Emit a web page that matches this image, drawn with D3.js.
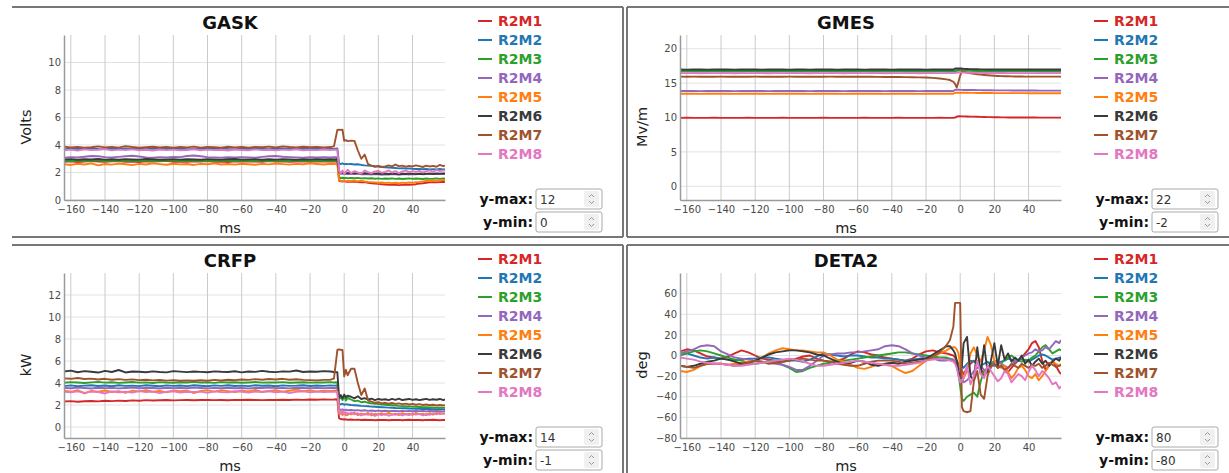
<!DOCTYPE html>
<html>
<head>
<meta charset="utf-8">
<script src="https://cdn.jsdelivr.net/npm/d3@7"></script>
<style>
  body { margin: 0; background: #fff; }
  svg text { font-family: "DejaVu Sans", Verdana, sans-serif; }
  .tick text { fill: #4a4a4a; font-size: 10px; }
  .domain { stroke: #9a9a9a; stroke-width: 1.5; }
</style>
</head>
<body>
<svg id="chart" width="1229" height="473"></svg>
<script>
// time axis shared by all four plots (ms)
var timeMs = [
  -164,-160,-156,-152,-148,-144,-140,-136,-132,-128,
  -124,-120,-116,-112,-108,-104,-100,-96,-92,-88,
  -84,-80,-76,-72,-68,-64,-60,-56,-52,-48,
  -44,-40,-36,-32,-28,-24,-20,-16,-12,-8,
  -6,-4,-3,-2,-1,0,1,2,
  4,6,8,10,12,14,16,18,20,22,
  24,26,28,30,32,34,36,38,40,42,
  44,46,48,50,52,54,56,58,59
];

var seriesNames = ["R2M1","R2M2","R2M3","R2M4","R2M5","R2M6","R2M7","R2M8"];
var seriesColors = ["#d62728","#1f77b4","#2ca02c","#9467bd","#ff7f0e","#3a3a3a","#a0522d","#e377c2"];
var xTicks = [-160,-140,-120,-100,-80,-60,-40,-20,0,20,40];

var gaskTicks = [0,2,4,6,8,10];
var gmesTicks = [0,5,10,15,20];
var crfpTicks = [0,2,4,6,8,10,12];
var deta2Ticks = [-80,-60,-40,-20,0,20,40,60];

var gask = [
  [2.78,2.82,2.76,2.80,2.84,2.79,2.77,2.81,2.83,2.78,
   2.80,2.76,2.82,2.79,2.81,2.85,2.78,2.80,2.77,2.82,
   2.79,2.83,2.78,2.80,2.76,2.81,2.79,2.82,2.80,2.78,
   2.83,2.79,2.81,2.77,2.80,2.82,2.78,2.81,2.79,2.80,
   2.80,2.81,1.40,1.36,1.34,1.37,1.33,1.35,
   1.32,1.34,1.30,1.28,1.30,1.25,1.22,1.20,1.18,1.15,
   1.12,1.10,1.12,1.10,1.08,1.10,1.12,1.10,1.12,1.15,
   1.20,1.22,1.25,1.28,1.30,1.28,1.30,1.32,1.30],
  [3.70,3.74,3.71,3.73,3.76,3.72,3.70,3.74,3.72,3.75,
   3.71,3.73,3.70,3.74,3.72,3.71,3.75,3.73,3.70,3.72,
   3.74,3.71,3.73,3.76,3.72,3.70,3.73,3.71,3.74,3.72,
   3.70,3.73,3.75,3.72,3.71,3.74,3.72,3.73,3.70,3.74,
   3.72,3.75,2.65,2.62,2.66,2.60,2.63,2.61,
   2.62,2.58,2.60,2.55,2.52,2.50,2.48,2.45,2.44,2.40,
   2.38,2.36,2.35,2.33,2.30,2.32,2.28,2.30,2.27,2.25,
   2.26,2.24,2.25,2.22,2.24,2.23,2.25,2.22,2.24],
  [2.86,2.84,2.87,2.83,2.85,2.88,2.84,2.86,2.83,2.85,
   2.87,2.84,2.86,2.85,2.83,2.86,2.88,2.84,2.85,2.87,
   2.83,2.86,2.84,2.85,2.87,2.84,2.86,2.83,2.85,2.86,
   2.84,2.87,2.85,2.83,2.86,2.84,2.85,2.87,2.84,2.86,
   2.85,2.86,1.65,1.60,1.62,1.58,1.61,1.59,
   1.60,1.58,1.61,1.57,1.59,1.56,1.58,1.55,1.57,1.54,
   1.56,1.55,1.57,1.54,1.56,1.53,1.55,1.57,1.54,1.56,
   1.55,1.53,1.56,1.54,1.55,1.57,1.54,1.56,1.55],
  [3.08,3.12,3.10,3.15,3.20,3.18,3.12,3.10,3.14,3.18,
   3.22,3.16,3.10,3.08,3.12,3.10,3.14,3.12,3.20,3.24,
   3.18,3.12,3.10,3.08,3.11,3.09,3.12,3.10,3.08,3.14,
   3.18,3.20,3.15,3.12,3.10,3.08,3.11,3.09,3.12,3.10,
   3.11,3.12,1.95,1.90,1.92,1.88,1.91,1.89,
   1.90,1.88,1.92,1.86,1.89,1.87,1.85,1.88,1.86,1.84,
   1.87,1.85,1.88,1.86,1.84,1.87,1.89,1.85,1.88,1.86,
   1.90,1.87,1.89,1.92,1.90,1.93,1.91,1.94,1.92],
  [2.60,2.55,2.64,2.58,2.66,2.52,2.62,2.57,2.65,2.60,
   2.54,2.63,2.58,2.66,2.61,2.56,2.64,2.59,2.62,2.55,
   2.63,2.60,2.66,2.58,2.62,2.57,2.64,2.60,2.56,2.63,
   2.59,2.65,2.61,2.57,2.63,2.60,2.66,2.62,2.58,2.64,
   2.62,2.65,1.45,1.40,1.38,1.42,1.37,1.40,
   1.38,1.42,1.36,1.40,1.35,1.32,1.30,1.28,1.25,1.27,
   1.24,1.26,1.23,1.25,1.22,1.26,1.24,1.27,1.25,1.30,
   1.32,1.35,1.38,1.40,1.42,1.40,1.44,1.46,1.45],
  [2.94,2.97,2.93,2.96,2.95,2.98,2.94,2.96,2.93,2.97,
   2.95,2.94,2.98,2.96,2.93,2.95,2.97,2.94,2.96,2.95,
   2.93,2.97,2.95,2.94,2.96,2.98,2.94,2.95,2.97,2.93,
   2.96,2.94,2.97,2.95,2.93,2.96,2.94,2.97,2.95,2.96,
   2.95,2.96,2.05,1.98,2.00,1.96,1.99,1.95,
   1.97,1.94,1.96,1.93,1.95,1.92,1.94,1.91,1.93,1.90,
   1.92,1.89,1.91,1.90,1.88,1.91,1.89,1.92,1.90,1.88,
   1.91,1.89,1.90,1.92,1.89,1.91,1.90,1.92,1.91],
  [3.88,3.82,3.86,3.80,3.84,3.90,3.83,3.86,3.81,3.92,
   3.85,3.80,3.84,3.87,3.82,3.86,3.80,3.85,3.83,3.88,
   3.81,3.86,3.84,3.80,3.87,3.83,3.85,3.81,3.86,3.84,
   3.88,3.82,3.90,3.85,3.83,3.87,3.84,3.86,3.82,3.85,
   3.90,5.10,5.12,5.10,5.11,4.30,4.35,4.28,
   4.32,4.30,3.60,3.00,3.30,2.60,2.50,2.42,2.48,2.40,
   2.45,2.52,2.44,2.58,2.46,2.50,2.42,2.48,2.44,2.52,
   2.46,2.40,2.50,2.44,2.48,2.42,2.55,2.46,2.50],
  [3.62,3.66,3.60,3.68,3.63,3.65,3.70,3.61,3.66,3.64,
   3.68,3.62,3.65,3.60,3.67,3.63,3.66,3.61,3.64,3.69,
   3.62,3.66,3.63,3.65,3.60,3.67,3.64,3.62,3.68,3.63,
   3.65,3.61,3.66,3.64,3.69,3.62,3.65,3.63,3.67,3.64,
   3.65,3.66,2.10,1.95,2.15,1.90,2.05,2.20,
   1.95,2.10,2.00,1.92,2.15,2.02,1.95,2.08,2.12,1.98,
   2.05,2.15,2.00,2.10,1.96,2.08,2.14,2.02,2.10,2.05,
   2.12,2.00,2.08,2.15,2.05,2.18,2.10,2.16,2.12]
];

var gmes = [
  [9.95,9.96,9.95,9.94,9.95,9.96,9.95,9.95,9.94,9.95,
   9.96,9.95,9.95,9.94,9.95,9.96,9.95,9.95,9.95,9.94,
   9.95,9.96,9.95,9.95,9.94,9.95,9.95,9.96,9.95,9.95,
   9.94,9.95,9.96,9.95,9.95,9.94,9.95,9.95,9.96,9.95,
   9.95,9.96,9.98,10.12,10.18,10.18,10.17,10.16,
   10.15,10.13,10.12,10.10,10.09,10.08,10.06,10.05,10.04,10.03,
   10.02,10.02,10.01,10.01,10.00,10.00,10.00,9.99,9.99,9.99,
   9.99,9.98,9.98,9.98,9.98,9.98,9.98,9.98,9.98],
  [16.80,16.81,16.80,16.79,16.80,16.81,16.80,16.80,16.79,16.80,
   16.81,16.80,16.80,16.79,16.80,16.81,16.80,16.80,16.80,16.79,
   16.80,16.81,16.80,16.80,16.79,16.80,16.80,16.81,16.80,16.80,
   16.79,16.80,16.81,16.80,16.80,16.79,16.80,16.80,16.81,16.80,
   16.80,16.80,16.82,16.88,16.90,16.89,16.88,16.87,
   16.86,16.85,16.84,16.84,16.83,16.83,16.82,16.82,16.82,16.81,
   16.81,16.81,16.81,16.80,16.80,16.80,16.80,16.80,16.80,16.80,
   16.80,16.80,16.80,16.80,16.80,16.80,16.80,16.80,16.80],
  [16.70,16.71,16.70,16.69,16.70,16.71,16.70,16.70,16.69,16.70,
   16.71,16.70,16.70,16.69,16.70,16.71,16.70,16.70,16.70,16.69,
   16.70,16.71,16.70,16.70,16.69,16.70,16.70,16.71,16.70,16.70,
   16.69,16.70,16.71,16.70,16.70,16.69,16.70,16.70,16.71,16.70,
   16.70,16.70,16.72,16.80,16.84,16.83,16.82,16.80,
   16.79,16.78,16.77,16.76,16.76,16.75,16.75,16.74,16.74,16.73,
   16.73,16.73,16.72,16.72,16.72,16.72,16.71,16.71,16.71,16.71,
   16.71,16.70,16.70,16.70,16.70,16.70,16.70,16.70,16.70],
  [13.85,13.86,13.85,13.84,13.85,13.86,13.85,13.85,13.84,13.85,
   13.86,13.85,13.85,13.84,13.85,13.86,13.85,13.85,13.85,13.84,
   13.85,13.86,13.85,13.85,13.84,13.85,13.85,13.86,13.85,13.85,
   13.84,13.85,13.86,13.85,13.85,13.84,13.85,13.85,13.86,13.85,
   13.85,13.86,14.02,14.04,14.03,14.02,14.02,14.01,
   14.00,14.00,13.99,13.98,13.98,13.97,13.96,13.96,13.95,13.95,
   13.94,13.94,13.94,13.93,13.93,13.93,13.92,13.92,13.92,13.92,
   13.92,13.91,13.91,13.91,13.91,13.91,13.91,13.91,13.91],
  [13.45,13.46,13.45,13.44,13.45,13.46,13.45,13.45,13.44,13.45,
   13.46,13.45,13.45,13.44,13.45,13.46,13.45,13.45,13.45,13.44,
   13.45,13.46,13.45,13.45,13.44,13.45,13.45,13.46,13.45,13.45,
   13.44,13.45,13.46,13.45,13.45,13.44,13.45,13.45,13.46,13.45,
   13.45,13.46,13.60,13.62,13.61,13.60,13.60,13.59,
   13.59,13.58,13.58,13.57,13.57,13.56,13.56,13.56,13.55,13.55,
   13.55,13.55,13.54,13.54,13.54,13.54,13.54,13.54,13.53,13.53,
   13.53,13.53,13.53,13.53,13.53,13.53,13.53,13.53,13.53],
  [16.98,16.97,16.99,16.98,16.97,16.98,16.99,16.98,16.97,16.98,
   16.99,16.98,16.97,16.98,16.98,16.99,16.97,16.98,16.98,16.97,
   16.99,16.98,16.98,16.97,16.98,16.99,16.98,16.97,16.98,16.98,
   16.99,16.97,16.98,16.98,16.99,16.98,16.97,16.98,16.98,16.99,
   16.98,16.98,17.12,17.14,17.13,17.15,17.12,17.08,
   17.05,17.03,17.02,17.01,17.00,17.00,16.99,16.99,16.99,16.98,
   16.98,16.98,16.98,16.98,16.98,16.98,16.98,16.98,16.98,16.98,
   16.98,16.98,16.98,16.98,16.98,16.98,16.98,16.98,16.98],
  [15.94,15.93,15.94,15.93,15.92,15.93,15.94,15.93,15.93,15.92,
   15.93,15.94,15.93,15.93,15.92,15.93,15.94,15.93,15.93,15.92,
   15.93,15.93,15.94,15.93,15.92,15.93,15.93,15.92,15.92,15.91,
   15.90,15.90,15.89,15.88,15.86,15.84,15.81,15.76,15.68,15.55,
   15.45,15.20,14.90,14.35,15.20,16.10,16.70,16.65,
   16.52,16.44,16.36,16.29,16.23,16.18,16.14,16.10,16.07,16.04,
   16.02,16.00,15.99,15.98,15.97,15.96,15.96,15.95,15.95,15.95,
   15.94,15.94,15.94,15.94,15.94,15.94,15.94,15.94,15.94],
  [16.45,16.46,16.45,16.44,16.45,16.46,16.45,16.45,16.44,16.45,
   16.46,16.45,16.45,16.44,16.45,16.46,16.45,16.45,16.45,16.44,
   16.45,16.46,16.45,16.45,16.44,16.45,16.45,16.46,16.45,16.45,
   16.44,16.45,16.46,16.45,16.45,16.44,16.45,16.45,16.46,16.45,
   16.45,16.45,16.47,16.52,16.55,16.54,16.53,16.52,
   16.51,16.50,16.50,16.49,16.49,16.48,16.48,16.48,16.47,16.47,
   16.47,16.47,16.46,16.46,16.46,16.46,16.46,16.46,16.46,16.46,
   16.46,16.46,16.46,16.46,16.46,16.46,16.46,16.46,16.46]
];

var crfp = [
  [2.32,2.35,2.30,2.34,2.36,2.33,2.38,2.35,2.40,2.37,
   2.42,2.39,2.44,2.41,2.43,2.45,2.42,2.44,2.46,2.43,
   2.45,2.47,2.44,2.46,2.43,2.47,2.45,2.48,2.46,2.44,
   2.47,2.45,2.48,2.46,2.49,2.47,2.50,2.48,2.51,2.49,
   2.50,2.52,0.80,0.72,0.70,0.68,0.70,0.66,
   0.68,0.65,0.67,0.64,0.66,0.63,0.65,0.62,0.64,0.63,
   0.65,0.62,0.64,0.63,0.65,0.62,0.64,0.66,0.63,0.65,
   0.64,0.62,0.65,0.63,0.66,0.64,0.62,0.65,0.64],
  [3.72,3.78,3.70,3.76,3.80,3.73,3.77,3.71,3.79,3.74,
   3.76,3.72,3.80,3.75,3.70,3.78,3.74,3.77,3.72,3.79,
   3.75,3.71,3.78,3.74,3.80,3.73,3.76,3.72,3.79,3.75,
   3.77,3.71,3.78,3.74,3.76,3.80,3.73,3.77,3.74,3.78,
   3.76,3.78,2.10,2.05,2.12,2.02,2.08,2.04,
   2.00,1.98,1.95,1.92,1.90,1.88,1.85,1.84,1.82,1.80,
   1.78,1.76,1.75,1.73,1.72,1.70,1.70,1.68,1.67,1.66,
   1.65,1.64,1.64,1.63,1.62,1.62,1.61,1.60,1.60],
  [4.02,4.08,4.04,4.00,4.06,4.10,4.03,4.07,4.01,4.05,
   4.09,4.03,4.06,4.00,4.08,4.04,4.02,4.07,4.05,4.10,
   4.03,4.06,4.01,4.08,4.04,4.07,4.02,4.05,4.09,4.03,
   4.06,4.04,4.08,4.02,4.05,4.07,4.03,4.06,4.04,4.08,
   4.05,4.07,2.50,2.75,2.45,2.80,2.40,2.65,
   2.50,2.35,2.40,2.25,2.30,2.20,2.15,2.12,2.08,2.05,
   2.02,2.00,1.98,1.95,1.92,1.90,1.88,1.87,1.85,1.84,
   1.82,1.80,1.80,1.78,1.77,1.76,1.75,1.74,1.74],
  [3.55,3.52,3.58,3.54,3.50,3.57,3.53,3.56,3.51,3.55,
   3.58,3.52,3.56,3.54,3.50,3.57,3.53,3.55,3.52,3.58,
   3.54,3.51,3.56,3.53,3.57,3.52,3.55,3.50,3.56,3.54,
   3.58,3.53,3.55,3.51,3.57,3.54,3.52,3.56,3.53,3.55,
   3.54,3.56,1.65,1.55,1.60,1.50,1.58,1.52,
   1.55,1.50,1.53,1.48,1.52,1.47,1.50,1.46,1.49,1.45,
   1.48,1.44,1.47,1.45,1.43,1.46,1.44,1.47,1.43,1.45,
   1.44,1.46,1.42,1.45,1.43,1.46,1.44,1.42,1.45],
  [3.30,3.20,3.35,3.05,3.28,3.22,3.32,3.18,3.26,3.10,
   3.30,3.24,3.34,3.20,3.28,3.15,3.32,3.25,3.30,3.08,
   3.27,3.33,3.22,3.35,3.26,3.18,3.30,3.24,3.36,3.20,
   3.28,3.34,3.22,3.30,3.40,3.26,3.32,3.24,3.30,3.28,
   3.30,3.32,1.20,1.35,1.10,1.30,1.05,1.25,
   1.15,1.30,1.08,1.22,1.12,1.28,1.05,1.20,1.15,1.25,
   1.10,1.30,1.12,1.22,1.08,1.26,1.14,1.20,1.10,1.28,
   1.15,1.22,1.08,1.25,1.12,1.30,1.18,1.24,1.20],
  [5.05,5.12,4.98,5.08,5.02,4.95,5.10,5.00,5.18,4.96,
   5.04,5.02,4.98,5.06,5.00,4.97,5.08,5.03,4.99,5.05,
   5.01,4.98,5.06,5.02,5.00,5.07,4.97,5.04,5.01,5.10,
   5.02,4.99,5.06,5.03,5.14,5.00,5.05,5.02,5.08,5.04,
   5.00,4.98,2.70,2.90,2.60,2.95,2.70,2.85,
   2.75,2.60,2.80,2.55,2.62,2.50,2.58,2.45,2.55,2.48,
   2.52,2.44,2.55,2.47,2.58,2.45,2.50,2.55,2.46,2.52,
   2.44,2.50,2.56,2.46,2.52,2.48,2.55,2.45,2.50],
  [4.42,4.38,4.45,4.36,4.40,4.32,4.38,4.30,4.35,4.28,
   4.33,4.26,4.30,4.24,4.28,4.22,4.26,4.20,4.24,4.22,
   4.25,4.20,4.28,4.23,4.30,4.26,4.32,4.28,4.35,4.30,
   4.36,4.32,4.38,4.30,4.34,4.28,4.26,4.24,4.28,4.30,
   4.40,7.00,7.05,7.02,7.00,4.60,5.20,4.70,
   5.30,5.30,4.00,2.90,3.50,2.40,2.30,2.20,2.25,2.15,
   2.20,2.12,2.18,2.10,2.15,2.08,2.12,2.05,2.10,2.02,
   2.08,2.00,2.05,1.98,2.02,1.96,2.00,1.95,1.98],
  [3.20,3.15,3.25,3.10,3.22,3.18,3.05,3.24,3.16,3.20,
   3.12,3.26,3.18,3.22,3.08,3.20,3.25,3.14,3.20,3.18,
   3.22,3.10,3.24,3.18,3.15,3.26,3.20,3.12,3.22,3.18,
   3.25,3.16,3.22,3.08,3.20,3.24,3.15,3.22,3.18,3.20,
   3.20,3.22,1.40,1.20,1.50,1.15,1.35,1.10,
   1.30,1.15,1.25,1.05,1.20,1.10,1.25,1.00,1.15,1.08,
   1.20,1.02,1.15,1.10,1.22,1.05,1.18,1.08,1.25,1.12,
   1.20,1.05,1.18,1.10,1.25,1.15,1.30,1.20,1.25]
];

var deta2 = [
  [4,6,5,2,-1,-2,-3,-1,2,5,
   3,0,-3,-4,-5,-6,-5,-3,-1,0,
   -3,-5,-6,-5,-3,1,4,3,1,0,
   -2,-3,-4,-5,-3,1,4,5,3,2,
   1,0,-2,-5,-8,-10,-15,-18,
   -12,-8,-5,-6,-12,-20,-15,-10,-8,-12,
   -10,-14,-16,-12,-8,-5,-2,2,6,12,
   14,8,-5,-14,-10,-5,-10,-16,-18],
  [3,2,0,-2,-3,-2,-3,-4,-5,-4,
   -3,-3,-2,-2,-3,-4,-5,-5,-6,-4,
   -1,2,1,0,-1,0,0,-1,-2,-2,
   -3,-3,-4,-5,-4,-3,-2,-2,-3,-3,
   -4,-5,-6,-7,-8,-9,-10,-12,
   -8,-5,-6,-8,-10,-8,-6,-9,-10,-8,
   -6,-5,-3,-4,-6,-5,-3,-5,-6,-4,
   -2,0,1,0,-2,-4,-3,-2,-2],
  [0,2,4,5,4,2,0,-2,-4,-5,
   -7,-8,-7,-5,-6,-9,-12,-16,-15,-12,
   -10,-8,-7,-5,-5,-4,-3,-2,-1,0,
   1,2,3,3,2,1,0,-1,-2,-2,
   -3,-4,-6,-10,-18,-30,-42,-44,
   -40,-38,-36,-40,-25,-15,-12,-8,-5,-6,
   -8,-4,-2,0,-3,-5,-6,-4,-5,-2,
   0,4,8,10,6,2,4,6,5],
  [2,4,6,9,10,9,4,1,-2,-3,
   -4,-5,-6,-7,-8,-9,-11,-14,-14,-10,
   -5,0,1,2,2,3,3,4,5,6,
   9,10,9,6,2,0,-2,-3,-5,-5,
   -4,-4,-6,-8,-10,-14,-22,-26,
   -24,-20,-15,-12,-10,-14,-16,-12,-6,-5,
   -8,-10,-12,-9,-6,-4,-2,0,2,3,
   6,4,5,8,6,10,14,12,15],
  [-15,-16,-14,-10,-8,-8,-8,-9,-8,-7,
   -6,-5,-2,2,5,7,6,5,5,4,
   3,3,0,-4,-6,-9,-12,-13,-11,-8,
   -9,-10,-14,-17,-15,-10,-5,-1,2,5,
   7,8,8,6,2,-10,-18,-22,
   -15,2,8,0,-6,5,18,10,-5,-8,
   -12,-10,-16,-22,-18,-12,-10,-14,-20,-22,
   -18,-24,-20,-15,-10,-6,-8,-10,-8],
  [-10,-11,-10,-8,-6,-5,-3,-4,-6,-8,
   -7,-5,-2,1,3,4,5,5,4,3,
   1,0,-3,-6,-8,-7,-5,-6,-9,-10,
   -8,-7,-8,-6,-5,-4,-3,1,5,9,
   9,5,2,-5,-15,-22,-10,12,
   18,-20,-24,8,-18,10,-16,-5,12,-10,
   10,-4,2,-6,-2,-5,0,-8,-4,-10,
   -6,-3,-8,-5,-10,-6,-3,-5,-2],
  [-10,-11,-12,-10,-8,-8,-8,-9,-10,-9,
   -7,-5,-6,-8,-7,-6,-5,-4,-3,-4,
   -5,-5,-6,-8,-9,-10,-10,-8,-6,-5,
   -5,-5,-6,-8,-7,-6,-5,-1,3,10,
   15,28,51,51,51,51,-50,-54,
   -55,-54,-25,-15,-38,-42,-20,-10,-8,-12,
   -10,-14,-12,-8,-10,-12,-8,-10,-12,-9,
   -10,-8,-12,-10,-7,-9,-11,-10,-9],
  [-2,-3,-4,-6,-7,-8,-8,-9,-10,-10,
   -9,-8,-7,-6,-5,-4,-3,-4,-6,-8,
   -10,-10,-9,-8,-7,-6,-5,-6,-7,-8,
   -9,-10,-10,-9,-8,-7,-5,-4,-3,-4,
   -5,-6,-8,-12,-20,-26,-24,-22,
   -10,-28,-20,-5,-18,-22,-10,-15,-20,-25,
   -22,-15,-18,-26,-22,-18,-20,-24,-16,-10,
   -14,-20,-15,-18,-22,-28,-26,-32,-30]
];

var panels = [
  {title: "GASK",  unit: "Volts", data: gask,  yDomain: [0, 12],   yTicks: gaskTicks,  yMax: "12", yMin: "0",   ox: 12,  oy: 7},
  {title: "GMES",  unit: "Mv/m",  data: gmes,  yDomain: [-2, 22],  yTicks: gmesTicks,  yMax: "22", yMin: "-2",  ox: 628, oy: 7},
  {title: "CRFP",  unit: "kW",    data: crfp,  yDomain: [-1, 14],  yTicks: crfpTicks,  yMax: "14", yMin: "-1",  ox: 12,  oy: 245},
  {title: "DETA2", unit: "deg",   data: deta2, yDomain: [-80, 80], yTicks: deta2Ticks, yMax: "80", yMin: "-80", ox: 628, oy: 245}
];

var svg = d3.select("#chart");

// panel frames
var frame = svg.append("g").attr("stroke", "#777").attr("stroke-width", 2).attr("fill", "none");
[[12,7,623,7],[623,7,623,237],[12,237,623,237],
 [627,7,1229,7],[627,7,627,237],[627,237,1229,237],
 [12,245,623,245],[623,245,623,473],
 [627,245,1229,245],[627,245,627,473]].forEach(function(s){
    frame.append("line").attr("x1", s[0]).attr("y1", s[1]).attr("x2", s[2]).attr("y2", s[3]);
});

var plotL = 52, plotR = 433, plotT = 28, plotB = 193;

panels.forEach(function(p, pi){
    var g = svg.append("g").attr("transform", "translate(" + p.ox + "," + p.oy + ")");

    var x = d3.scaleLinear().domain([-164, 59]).range([plotL, plotR]);
    var y = d3.scaleLinear().domain(p.yDomain).range([plotB, plotT]);

    // grid
    g.append("g").selectAll("line").data(p.yTicks).enter().append("line")
        .attr("x1", plotL).attr("x2", plotR)
        .attr("y1", function(d){ return y(d); }).attr("y2", function(d){ return y(d); })
        .attr("stroke", "#e2e2e2").attr("stroke-width", 1);
    g.append("g").selectAll("line").data(xTicks).enter().append("line")
        .attr("x1", function(d){ return x(d); }).attr("x2", function(d){ return x(d); })
        .attr("y1", plotT).attr("y2", plotB)
        .attr("stroke", "#cacaca").attr("stroke-width", 1);

    // lines
    var clipId = "clip" + pi;
    g.append("clipPath").attr("id", clipId).append("rect")
        .attr("x", plotL).attr("y", plotT).attr("width", plotR - plotL).attr("height", plotB - plotT);

    var line = d3.line()
        .defined(function(d){ return d != null; })
        .x(function(d, i){ return x(timeMs[i]); })
        .y(function(d){ return y(d); });

    g.append("g").attr("clip-path", "url(#" + clipId + ")")
        .selectAll("path").data(p.data).enter().append("path")
        .attr("fill", "none")
        .attr("stroke", function(d, i){ return seriesColors[i]; })
        .attr("stroke-width", 1.9)
        .attr("stroke-linejoin", "round")
        .attr("d", function(d){ return line(d.slice(0, timeMs.length)); });

    // axes
    g.append("g")
        .attr("transform", "translate(0," + plotB + ")")
        .call(d3.axisBottom(x).tickValues(xTicks).tickSize(0).tickPadding(6));
    g.append("g")
        .attr("transform", "translate(" + plotL + ",0)")
        .call(d3.axisLeft(y).tickValues(p.yTicks).tickSize(0).tickPadding(3));

    // title and axis labels
    g.append("text").attr("x", 218).attr("y", 22)
        .attr("text-anchor", "middle").attr("font-size", 18).attr("font-weight", "bold")
        .attr("fill", "#111").text(p.title);
    g.append("text").attr("x", 218).attr("y", 226)
        .attr("text-anchor", "middle").attr("font-size", 14.5).attr("fill", "#222").text("ms");
    g.append("text")
        .attr("transform", "translate(13.5,120) rotate(-90)")
        .attr("dy", "0.35em")
        .attr("text-anchor", "middle").attr("font-size", 14.5).attr("fill", "#222").text(p.unit);

    // legend
    var leg = g.append("g").selectAll("g").data(seriesNames).enter().append("g")
        .attr("transform", function(d, i){ return "translate(0," + (14 + i * 19) + ")"; });
    leg.append("line").attr("x1", 466).attr("x2", 480).attr("y1", 0).attr("y2", 0)
        .attr("stroke", function(d, i){ return seriesColors[i]; }).attr("stroke-width", 2);
    leg.append("text").attr("x", 486).attr("dy", "0.36em")
        .attr("font-size", 14).attr("font-weight", "bold")
        .attr("fill", function(d, i){ return seriesColors[i]; })
        .text(function(d){ return d; });

    // y-max / y-min boxes
    [["y-max:", p.yMax, 182], ["y-min:", p.yMin, 205]].forEach(function(b){
        var bx = 524, by = b[2];
        g.append("text").attr("x", 521).attr("y", by + 15)
            .attr("text-anchor", "end").attr("font-size", 14).attr("font-weight", "bold")
            .attr("fill", "#111").text(b[0]);
        g.append("rect").attr("x", bx).attr("y", by).attr("width", 66).attr("height", 20)
            .attr("rx", 2).attr("fill", "#fff").attr("stroke", "#a9a9a9");
        g.append("text").attr("x", bx + 4).attr("y", by + 14.5)
            .attr("font-size", 12).attr("fill", "#333").text(b[1]);
        g.append("rect").attr("x", bx + 48).attr("y", by + 2).attr("width", 15).attr("height", 16)
            .attr("rx", 2).attr("fill", "#f0f0f0");
        g.append("path")
            .attr("d", "M" + (bx + 53) + "," + (by + 8) + "l2.5,-2.5l2.5,2.5" +
                       "M" + (bx + 53) + "," + (by + 12) + "l2.5,2.5l2.5,-2.5")
            .attr("fill", "none").attr("stroke", "#999").attr("stroke-width", 1);
    });
});
</script>
</body>
</html>
